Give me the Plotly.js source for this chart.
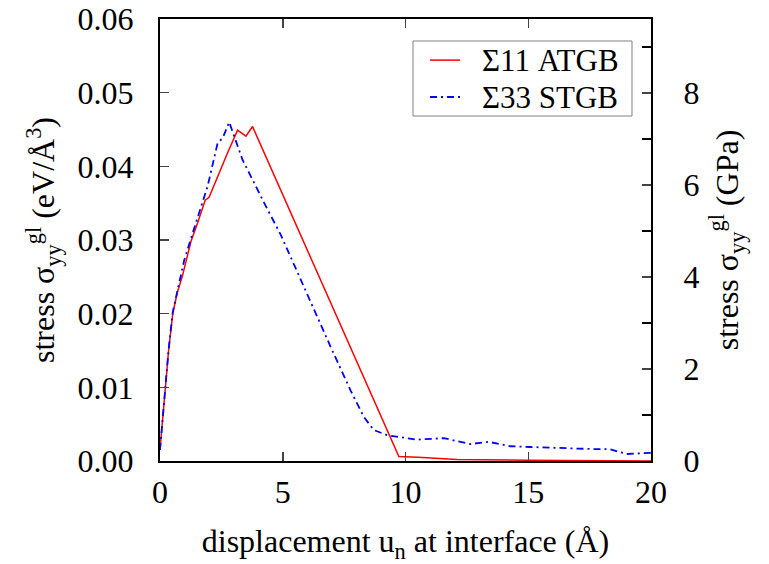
<!DOCTYPE html>
<html>
<head>
<meta charset="utf-8">
<script src="https://cdn.plot.ly/plotly-3.0.1.min.js"></script>
<style>html,body{margin:0;padding:0;background:#fff;}#chart{width:769px;height:564px;}</style>
</head>
<body>
<div id="chart"></div>
<script>
// Σ11 ATGB (red, solid)
const atgbX = [0, 0.05, 0.11, 0.22, 0.35, 0.52, 0.7, 0.92, 1.26, 1.53, 1.84, 2.0, 2.34, 2.75, 3.16, 3.5, 3.77, 9.73, 10.5, 12.1, 15.0, 17.0, 20.0];
const atgbY = [0.0015, 0.0035, 0.0055, 0.010, 0.015, 0.020, 0.0228, 0.0252, 0.0298, 0.0323, 0.0354, 0.0358, 0.0386, 0.0418, 0.0449, 0.0441, 0.0454, 0.0006, 0.0005, 0.0002, 0.0001, 0.00005, 0.0];
// Σ33 STGB (blue, dash-dot)
const stgbX = [0, 0.05, 0.11, 0.22, 0.35, 0.52, 0.7, 0.99, 1.46, 1.94, 2.35, 2.55, 2.82, 3.36, 4.31, 4.92, 6.95, 7.76, 8.3, 8.71, 9.26, 10.07, 10.47, 11.56, 12.64, 13.39, 14.27, 15.08, 16.44, 17.79, 18.33, 19.01, 19.96, 20.0];
const stgbY = [0.0015, 0.0036, 0.0056, 0.0101, 0.0151, 0.0202, 0.023, 0.0273, 0.0323, 0.0373, 0.0432, 0.0438, 0.046, 0.0409, 0.0346, 0.0307, 0.0155, 0.0096, 0.006, 0.0042, 0.0035, 0.0031, 0.0029, 0.0031, 0.0023, 0.0026, 0.002, 0.0019, 0.0017, 0.0016, 0.0016, 0.00095, 0.0011, 0.0011];
const seriesNames = ["Σ11 ATGB", "Σ33 STGB"];
const xTicks = [0, 5, 10, 15, 20];
const yTicks = [0, 0.01, 0.02, 0.03, 0.04, 0.05, 0.06];
const yTickText = ["0.00", "0.01", "0.02", "0.03", "0.04", "0.05", "0.06"];
const gpaTicks = [0, 2, 4, 6, 8];
const evPerA3ToGPa = 160.2;

const fam = "Liberation Serif, Times New Roman, serif";
const font = {family: fam, color: "#000", size: 32};
const redLine = {color: "#ff0000", width: 1.5};
const blueLine = {color: "#0000ff", width: 1.8, dash: "7px,4px,2px,4px"};

const traces = [
  {x: atgbX, y: atgbY, type: "scatter", mode: "lines", name: seriesNames[0], line: redLine},
  {x: stgbX, y: stgbY, type: "scatter", mode: "lines", name: seriesNames[1], line: blueLine},
  {x: [null], y: [null], yaxis: "y2", showlegend: false, hoverinfo: "skip"}
];

// hand-drawn legend box (paper coordinates of the plot area)
const legRows = [0.907, 0.8235];
const legStyles = [redLine, blueLine];
const shapes = [
  {type: "rect", xref: "paper", yref: "paper", x0: 0.5153, x1: 0.9613, y0: 0.7805, y1: 0.9502,
   line: {color: "#808080", width: 1}, fillcolor: "#fff", layer: "above"}
];
const annotations = [];
seriesNames.forEach((nm, i) => {
  shapes.push({type: "line", xref: "paper", yref: "paper", x0: 0.5499, x1: 0.611,
               y0: legRows[i], y1: legRows[i], line: legStyles[i], layer: "above"});
  annotations.push({xref: "paper", yref: "paper", x: 0.6517, y: legRows[i], xanchor: "left",
                    yanchor: "middle", text: nm, showarrow: false,
                    font: {family: fam, size: 31, color: "#000"}});
});

const layout = {
  width: 769, height: 564,
  margin: {l: 160, r: 118, t: 19, b: 103},
  paper_bgcolor: "#fff", plot_bgcolor: "#fff",
  font: font,
  showlegend: false,
  shapes: shapes,
  annotations: annotations,
  xaxis: {range: [0, 20], tickvals: xTicks, ticks: "inside", ticklen: 9, tickwidth: 1.5,
          showline: true, linewidth: 2, linecolor: "#000", mirror: "ticks",
          showgrid: false, zeroline: false, tickfont: {family: fam, size: 32}, ticklabelstandoff: 2,
          title: {text: "displacement u<sub>n</sub> at interface (Å)", font: {family: fam, size: 32}, standoff: 22}},
  yaxis: {range: [0, 0.06], tickvals: yTicks, ticktext: yTickText, ticks: "inside", ticklen: 9, tickwidth: 1.5,
          showline: true, linewidth: 2, linecolor: "#000", mirror: false,
          showgrid: false, zeroline: false, tickfont: {family: fam, size: 32}, ticklabelstandoff: 18,
          title: {text: "stress σ<sub>yy</sub><sup>gl</sup> (eV/Å<sup>3</sup>)", font: {family: fam, size: 32}, standoff: 13}},
  yaxis2: {range: [0, 0.06 * evPerA3ToGPa], overlaying: "y", side: "right", tickvals: gpaTicks,
           ticks: "inside", ticklen: 9, tickwidth: 1.5,
           minor: {dtick: 1, ticks: "inside", ticklen: 9, tickwidth: 1.5, tickcolor: "#000"},
           showline: true, linewidth: 2, linecolor: "#000",
           showgrid: false, zeroline: false, tickfont: {family: fam, size: 32}, ticklabelstandoff: 24,
           title: {text: "stress σ<sub>yy</sub><sup>gl</sup> (GPa)", font: {family: fam, size: 32}, standoff: 17}}
};

Plotly.newPlot("chart", traces, layout, {displayModeBar: false, staticPlot: true});
</script>
</body>
</html>
